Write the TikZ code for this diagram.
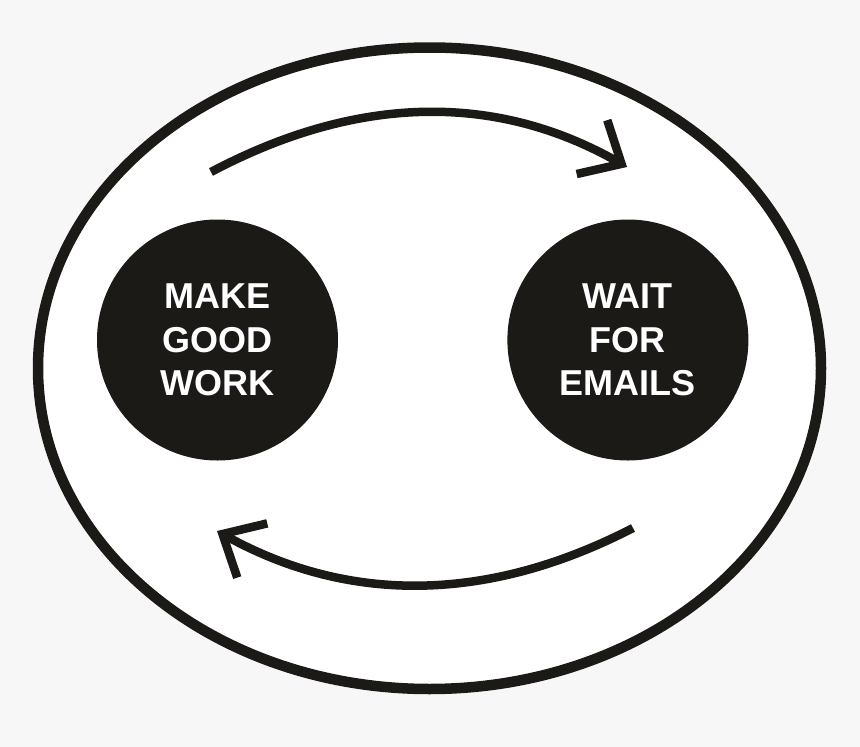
\documentclass[tikz,border=0pt]{standalone}
\usepackage{fontspec}
\setmainfont{Liberation Sans}
\usepackage{xcolor}
\usepackage{tikz}
\usetikzlibrary{arrows.meta,positioning,shapes.geometric}
\definecolor{ink}{HTML}{1B1A17}
\definecolor{paper}{HTML}{F7F7F7}

\begin{document}
\begin{tikzpicture}[x=1pt, y=-1pt,
      blob/.style={circle, fill=ink, text=white, inner sep=0pt, minimum size=241pt,
      align=center, font=\fontsize{36}{43.5}\selectfont\bfseries},
      rim/.style={ellipse, draw=ink, fill=white, line width=10.5pt, inner sep=0pt,
      minimum width=783pt, minimum height=641.5pt},
      flow/.style={draw=ink, line width=8.5pt,
      -{Straight Barb[length=34pt, width=62pt, line join=miter, line cap=butt]}}]
    \useasboundingbox (0,0) rectangle (860,747);
    \fill[paper] (0,0) rectangle (860,747);
    \node[rim] (rim) at (429.5,368.25) {};
    \node[blob] (mk) at (217.5,340) {MAKE\\GOOD\\WORK};
    \node[blob, right=169pt of mk] (wt) {WAIT\\FOR\\EMAILS};
    % free ends of the two arcs
    \coordinate (a0) at (211,172); \coordinate (a1) at (627,167);
    \coordinate (b0) at (633,528); \coordinate (b1) at (217,531);
    \draw[flow] (a0) .. controls (357.7,94.3) and (496.3,92.7) .. (a1);
    \draw[flow] (b0) .. controls (487.7,603) and (349,604) .. (b1);
  \end{tikzpicture}
\end{document}
